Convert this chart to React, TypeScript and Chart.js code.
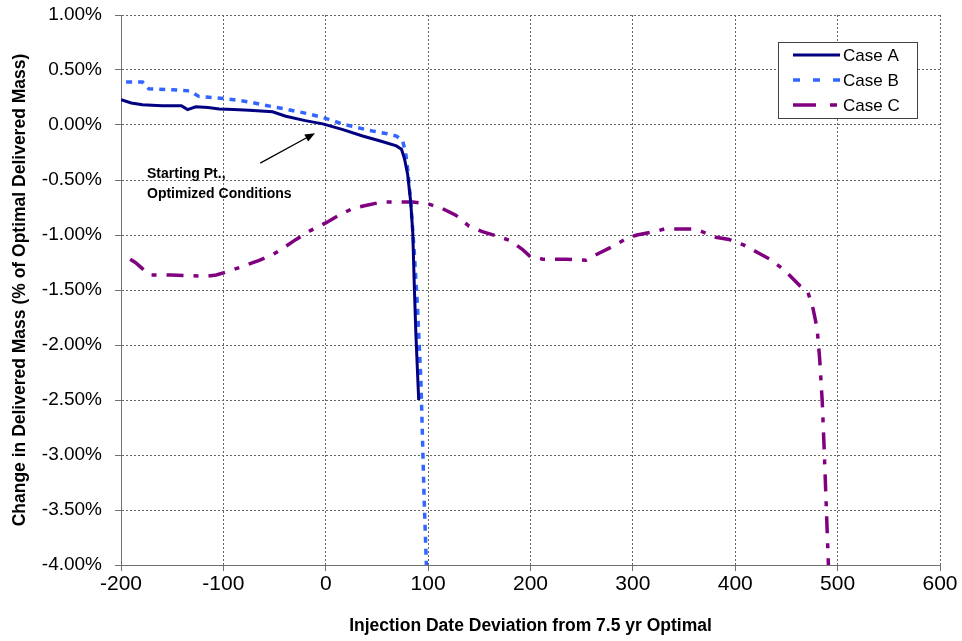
import { useEffect, useRef } from 'react';
import { Chart, registerables } from 'chart.js';

Chart.register(...registerables);

const FONT = '"Liberation Sans", Arial, Helvetica, sans-serif';

// ---- Data ----
const caseAX = [-200, -190, -179, -160, -141, -135, -127, -115, -104, -90, -75, -52, -39, -20, -3, 16, 36, 55, 69, 74, 77, 80, 83, 85, 86.5, 88, 90.8];
const caseAY = [0.23, 0.2, 0.185, 0.175, 0.175, 0.14, 0.165, 0.16, 0.145, 0.14, 0.135, 0.12, 0.08, 0.04, 0.01, -0.04, -0.1, -0.15, -0.19, -0.22, -0.31, -0.45, -0.7, -0.98, -1.46, -1.89, -2.5];

const caseBX = [-195, -179, -173, -150, -133, -124, -98, -75, -60, -42, -16, 0, 16, 43, 60, 69, 75, 78, 80, 83, 86.5, 89.7, 93, 94.5, 96, 98, 98.3];
const caseBY = [0.39, 0.39, 0.33, 0.32, 0.31, 0.26, 0.24, 0.21, 0.18, 0.15, 0.1, 0.06, 0.01, -0.05, -0.08, -0.1, -0.14, -0.25, -0.4, -0.7, -1.16, -1.67, -2.34, -2.85, -3.37, -3.92, -4.0];

const caseCX = [-191, -186, -172, -151, -130, -117, -107, -95, -81, -65, -52, -40, -29, -15, 0, 13, 26, 40, 55, 70, 85, 101, 114, 127, 140, 153, 166, 180, 192, 199, 212, 235, 254, 264, 281, 294, 304, 321, 331, 358, 365, 381, 394, 408, 424, 434, 448, 463, 471, 476, 480, 482.5, 485, 487, 489, 491];
const caseCY = [-1.22, -1.25, -1.364, -1.364, -1.37, -1.376, -1.364, -1.33, -1.285, -1.23, -1.18, -1.11, -1.04, -0.96, -0.89, -0.82, -0.76, -0.73, -0.7, -0.7, -0.7, -0.72, -0.76, -0.82, -0.92, -0.97, -1.006, -1.05, -1.13, -1.19, -1.22, -1.22, -1.23, -1.18, -1.1, -1.03, -1.0, -0.97, -0.945, -0.945, -0.96, -1.02, -1.04, -1.09, -1.17, -1.22, -1.32, -1.46, -1.52, -1.67, -1.85, -2.13, -2.52, -2.98, -3.49, -4.0];

const seriesNames = ['Case A', 'Case B', 'Case C'];
const seriesColors = ['#000080', '#3366ff', '#800080'];

const xAxisMin = -200;
const xAxisMax = 600;
const xAxisStep = 100;
const yAxisMin = -4;
const yAxisMax = 1;
const yAxisStep = 0.5;

const xTitle = 'Injection Date Deviation from 7.5 yr Optimal';
const yTitle = 'Change in Delivered Mass (% of Optimal Delivered Mass)';

const annotationLines = ['Starting Pt.,', 'Optimized Conditions'];
const annotationTextX = -174.6;
const annotationTextY = [-0.483, -0.665];
const arrowStart = [-64, -0.347];
const arrowEnd = [-10.5, -0.074];

const toPoints = (xs: number[], ys: number[]) => xs.map((x, i) => ({ x, y: ys[i] }));

const legendDashes = [[], [7, 13], [23, 14, 7, 14]];

const annotationPlugin = {
  id: 'annot',
  afterDatasetsDraw(chart: any) {
    const { ctx, scales } = chart;
    const xs = scales.x;
    const ys = scales.y;
    ctx.save();
    ctx.fillStyle = '#000';
    ctx.font = `bold 14px ${FONT}`;
    ctx.textAlign = 'left';
    ctx.textBaseline = 'alphabetic';
    annotationLines.forEach((t, i) => {
      ctx.fillText(t, xs.getPixelForValue(annotationTextX), ys.getPixelForValue(annotationTextY[i]));
    });
    const x1 = xs.getPixelForValue(arrowStart[0]);
    const y1 = ys.getPixelForValue(arrowStart[1]);
    const x2 = xs.getPixelForValue(arrowEnd[0]);
    const y2 = ys.getPixelForValue(arrowEnd[1]);
    const ang = Math.atan2(y2 - y1, x2 - x1);
    const hl = 10;
    const hw = 4;
    ctx.strokeStyle = '#000';
    ctx.lineWidth = 1.3;
    ctx.beginPath();
    ctx.moveTo(x1, y1);
    ctx.lineTo(x2 - Math.cos(ang) * hl * 0.8, y2 - Math.sin(ang) * hl * 0.8);
    ctx.stroke();
    ctx.beginPath();
    ctx.moveTo(x2, y2);
    ctx.lineTo(x2 - Math.cos(ang) * hl - Math.sin(ang) * hw, y2 - Math.sin(ang) * hl + Math.cos(ang) * hw);
    ctx.lineTo(x2 - Math.cos(ang) * hl + Math.sin(ang) * hw, y2 - Math.sin(ang) * hl - Math.cos(ang) * hw);
    ctx.closePath();
    ctx.fill();
    ctx.restore();
  },
};

const legendPlugin = {
  id: 'boxLegend',
  afterDraw(chart: any) {
    const { ctx } = chart;
    const bx = 778;
    const by = 42;
    const bw = 139;
    const bh = 76;
    ctx.save();
    ctx.fillStyle = '#fff';
    ctx.fillRect(bx, by, bw, bh);
    ctx.strokeStyle = '#404040';
    ctx.lineWidth = 1;
    ctx.strokeRect(bx + 0.5, by + 0.5, bw, bh);
    chart.data.datasets.forEach((ds: any, i: number) => {
      const cy = by + 13 + i * 25;
      ctx.strokeStyle = ds.borderColor;
      ctx.lineWidth = ds.borderWidth;
      ctx.setLineDash(legendDashes[i]);
      ctx.beginPath();
      ctx.moveTo(793, cy);
      ctx.lineTo(840, cy);
      ctx.stroke();
      ctx.setLineDash([]);
      ctx.fillStyle = '#000';
      ctx.font = `17px ${FONT}`;
      ctx.textAlign = 'left';
      ctx.textBaseline = 'middle';
      ctx.fillText(ds.label, 843, cy + 1);
    });
    ctx.restore();
  },
};

export default function App() {
  const canvasRef = useRef<HTMLCanvasElement | null>(null);

  useEffect(() => {
    document.body.style.margin = '0';
    const canvas = canvasRef.current;
    if (!canvas) return;
    const gridCommon = {
      color: '#666666',
      lineWidth: 1,
      drawTicks: true,
      tickLength: 6,
      tickColor: '#707070',
      tickWidth: 1,
      tickBorderDash: [],
    };
    const chart = new Chart(canvas, {
      type: 'scatter',
      data: {
        datasets: [
          {
            label: seriesNames[0],
            data: toPoints(caseAX, caseAY),
            borderColor: seriesColors[0],
            backgroundColor: seriesColors[0],
            borderWidth: 3,
            showLine: true,
            pointRadius: 0,
            tension: 0,
          },
          {
            label: seriesNames[1],
            data: toPoints(caseBX, caseBY),
            borderColor: seriesColors[1],
            backgroundColor: seriesColors[1],
            borderWidth: 3.5,
            borderDash: [6, 6],
            showLine: true,
            pointRadius: 0,
            tension: 0,
          },
          {
            label: seriesNames[2],
            data: toPoints(caseCX, caseCY),
            borderColor: seriesColors[2],
            backgroundColor: seriesColors[2],
            borderWidth: 3.5,
            borderDash: [17, 10, 5, 10],
            showLine: true,
            pointRadius: 0,
            tension: 0,
          },
        ],
      },
      options: {
        animation: false,
        responsive: false,
        devicePixelRatio: 1,
        layout: { padding: { top: 15, right: 22, bottom: 0, left: 0 } },
        plugins: { legend: { display: false }, tooltip: { enabled: false } },
        scales: {
          x: {
            type: 'linear',
            min: xAxisMin,
            max: xAxisMax,
            ticks: {
              stepSize: xAxisStep,
              color: '#000',
              font: { size: 21, family: FONT },
              padding: 1,
              maxRotation: 0,
            },
            grid: gridCommon,
            border: { display: true, color: '#707070', width: 1, dash: [2, 2] },
            title: {
              display: true,
              text: xTitle,
              color: '#000',
              font: { size: 17.5, weight: 'bold', family: FONT },
              padding: { top: 0, bottom: 4 },
            },
            afterFit: (s: any) => {
              s.height = 76;
              s.paddingLeft = 0;
              s.paddingRight = 0;
            },
          },
          y: {
            type: 'linear',
            min: yAxisMin,
            max: yAxisMax,
            ticks: {
              stepSize: yAxisStep,
              color: '#000',
              font: { size: 19, family: FONT },
              padding: 13,
              callback: (v: any) => Number(v).toFixed(2) + '%',
            },
            grid: gridCommon,
            border: { display: true, color: '#707070', width: 1, dash: [2, 2] },
            title: {
              display: true,
              text: yTitle,
              color: '#000',
              font: { size: 17.5, weight: 'bold', family: FONT },
              padding: { top: 10, bottom: 0 },
            },
            afterFit: (s: any) => {
              s.width = 121;
              s.paddingTop = 0;
              s.paddingBottom = 0;
            },
          },
        },
      },
      plugins: [annotationPlugin, legendPlugin],
    } as any);
    return () => chart.destroy();
  }, []);

  return (
    <div style={{ width: 962, height: 641, background: '#fff' }}>
      <canvas ref={canvasRef} width={962} height={641} style={{ display: 'block' }} />
    </div>
  );
}
